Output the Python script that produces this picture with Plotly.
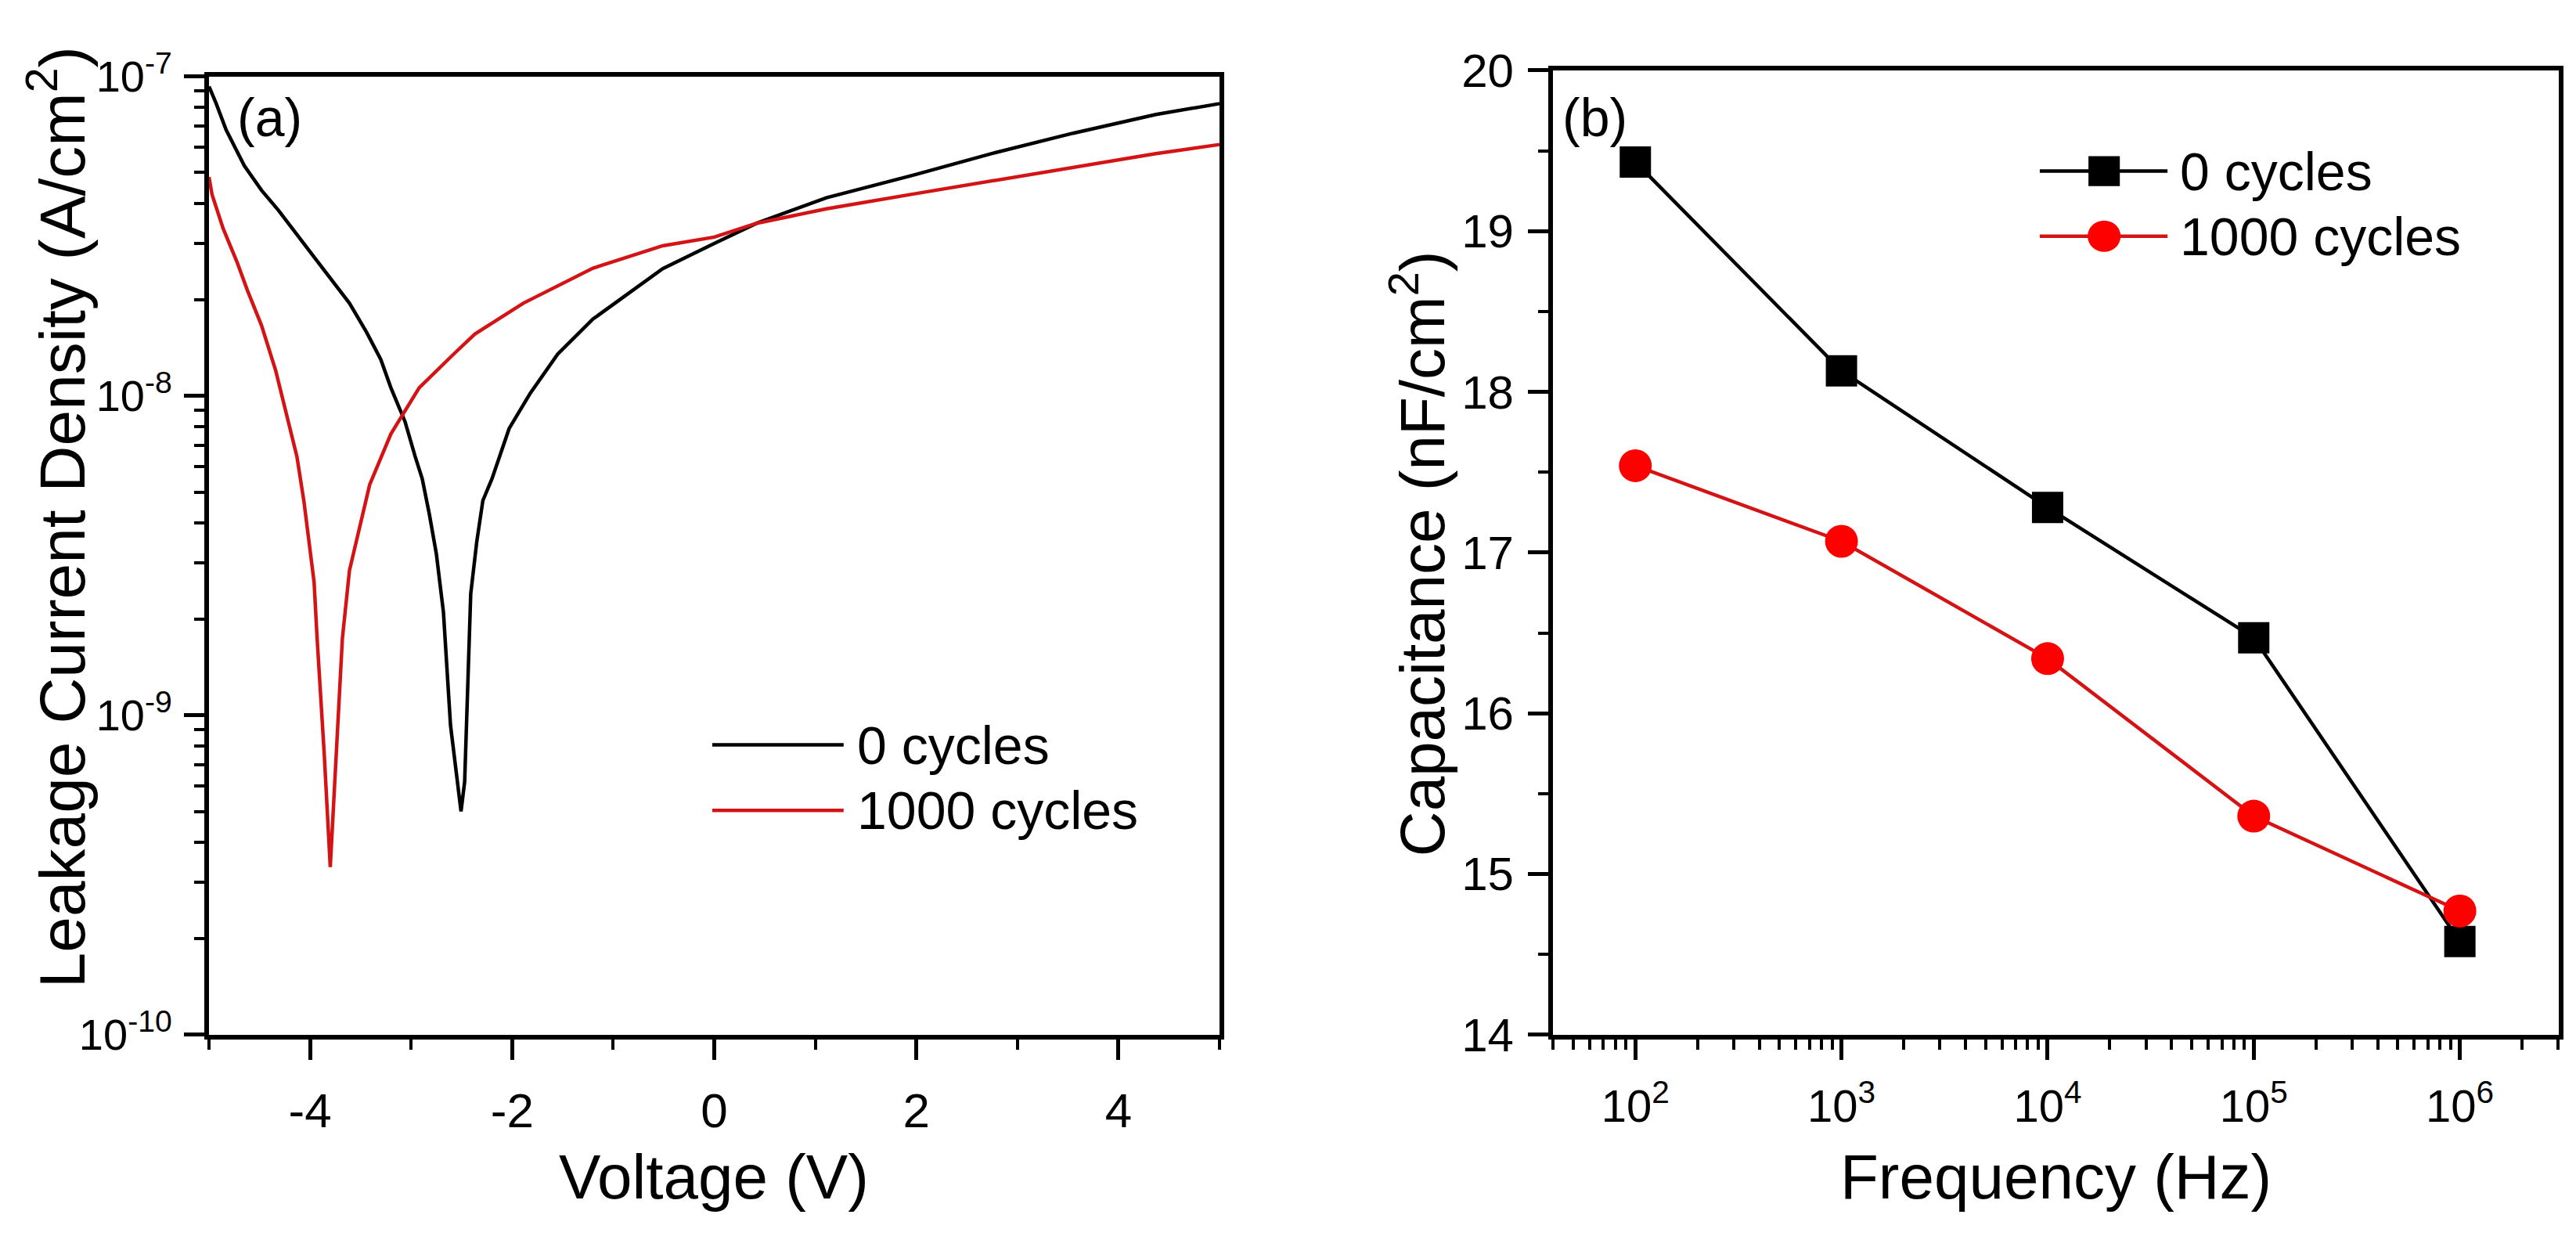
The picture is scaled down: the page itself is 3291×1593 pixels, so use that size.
import plotly.graph_objects as go

# ---- (a) leakage current density vs voltage ----
volt_0 = [-5.00, -4.93, -4.83, -4.65, -4.48, -4.31, -3.96, -3.79, -3.61, -3.44,
          -3.30, -3.20, -3.06, -2.96, -2.89, -2.82, -2.75, -2.68, -2.61, -2.55,
          -2.506, -2.47, -2.44, -2.41, -2.35, -2.29, -2.20, -2.03, -1.82, -1.55,
          -1.20, -0.51, 0.00, 0.42, 1.11, 1.98, 2.74, 3.55, 4.37, 5.00]
j_0 = [9.3e-8, 8.24e-8, 6.8e-8, 5.25e-8, 4.4e-8, 3.80e-8, 2.72e-8, 2.31e-8, 1.95e-8, 1.58e-8,
       1.30e-8, 1.06e-8, 8.3e-9, 6.46e-9, 5.5e-9, 4.27e-9, 3.2e-9, 2.1e-9, 9.3e-10, 6.5e-10,
       5.0e-10, 6.2e-10, 1.26e-9, 2.4e-9, 3.5e-9, 4.7e-9, 5.5e-9, 7.9e-9, 1.02e-8, 1.35e-8,
       1.74e-8, 2.5e-8, 3.0e-8, 3.47e-8, 4.17e-8, 4.92e-8, 5.73e-8, 6.64e-8, 7.60e-8, 8.22e-8]

volt_1000 = [-5.00, -4.97, -4.86, -4.79, -4.72, -4.62, -4.48, -4.34, -4.20, -4.13,
             -4.06, -3.96, -3.93, -3.86, -3.80, -3.74, -3.68, -3.61, -3.41, -3.20,
             -3.08, -2.92, -2.58, -2.37, -1.89, -1.20, -0.51, 0.00, 0.42, 1.11,
             1.98, 2.74, 3.55, 4.37, 5.00]
j_1000 = [4.84e-8, 4.27e-8, 3.34e-8, 2.95e-8, 2.61e-8, 2.14e-8, 1.66e-8, 1.20e-8, 7.9e-9, 6.46e-9,
          4.66e-9, 2.61e-9, 1.74e-9, 7.6e-10, 3.35e-10, 7.6e-10, 1.74e-9, 2.84e-9, 5.27e-9, 7.6e-9,
          8.8e-9, 1.06e-8, 1.35e-8, 1.56e-8, 1.95e-8, 2.51e-8, 2.95e-8, 3.14e-8, 3.47e-8, 3.85e-8,
          4.29e-8, 4.71e-8, 5.19e-8, 5.73e-8, 6.12e-8]

v_ticks = [-4, -2, 0, 2, 4]
v_ticktext = ["-4", "-2", "0", "2", "4"]
j_ticks = [1e-10, 1e-9, 1e-8, 1e-7]
j_ticktext = ["10<sup>-10</sup>", "10<sup>-9</sup>", "10<sup>-8</sup>", "10<sup>-7</sup>"]

# ---- (b) capacitance vs frequency ----
freq = [1e2, 1e3, 1e4, 1e5, 1e6]
cap_0 = [19.43, 18.13, 17.28, 16.47, 14.58]
cap_1000 = [17.54, 17.07, 16.34, 15.36, 14.77]

f_ticks = [1e2, 1e3, 1e4, 1e5, 1e6]
f_ticktext = ["10<sup>2</sup>", "10<sup>3</sup>", "10<sup>4</sup>", "10<sup>5</sup>", "10<sup>6</sup>"]

names = ["0 cycles", "1000 cycles"]

FONT = "Arial, Liberation Sans, sans-serif"
RED_LINE = "#d41414"
RED_MARK = "#ff0000"
LW = 4.5

fig = go.Figure()

fig.add_trace(go.Scatter(x=volt_0, y=j_0, mode="lines", name=names[0],
                         line=dict(color="black", width=LW),
                         xaxis="x", yaxis="y", showlegend=False))
fig.add_trace(go.Scatter(x=volt_1000, y=j_1000, mode="lines", name=names[1],
                         line=dict(color=RED_LINE, width=LW),
                         xaxis="x", yaxis="y", showlegend=False))

fig.add_trace(go.Scatter(x=freq, y=cap_0, mode="lines+markers", name=names[0],
                         line=dict(color="black", width=LW),
                         marker=dict(symbol="square", size=40, color="black"),
                         xaxis="x2", yaxis="y2", showlegend=False))
fig.add_trace(go.Scatter(x=freq, y=cap_1000, mode="lines+markers", name=names[1],
                         line=dict(color=RED_LINE, width=LW),
                         marker=dict(symbol="circle", size=42, color=RED_MARK),
                         xaxis="x2", yaxis="y2", showlegend=False))

common = dict(showline=True, linecolor="black", linewidth=6, mirror=True,
              ticks="outside", ticklen=26, tickwidth=5, tickcolor="black",
              showgrid=False, zeroline=False,
              tickfont=dict(family=FONT, size=58, color="black"))
minor_common = dict(ticks="outside", ticklen=13, tickwidth=4, tickcolor="black", showgrid=False)

fig.update_layout(
    width=3291, height=1593, autosize=False,
    margin=dict(l=0, r=0, t=0, b=0),
    paper_bgcolor="white", plot_bgcolor="white",
    font=dict(family=FONT, color="black"),
    xaxis=dict(common, domain=[0.0787, 0.471], range=[-5, 5],
               tickmode="array", tickvals=v_ticks, ticktext=v_ticktext,
               minor=dict(minor_common, dtick=1, tick0=-5), anchor="y",
               ticklabelstandoff=12,
               tickfont=dict(family=FONT, size=62, color="black")),
    yaxis=dict(common, domain=[0.1613, 0.9667], type="log", range=[-10, -7],
               tickmode="array", tickvals=j_ticks, ticktext=j_ticktext,
               minor=dict(minor_common, dtick="D1"), anchor="x",
               ticklabelstandoff=4,
               tickfont=dict(family=FONT, size=56, color="black")),
    xaxis2=dict(common, domain=[0.6004, 0.9909], type="log", range=[1.6, 6.48],
                tickmode="array", tickvals=f_ticks, ticktext=f_ticktext,
                minor=dict(minor_common, dtick="D1"), anchor="y2",
                ticklabelstandoff=10),
    yaxis2=dict(common, domain=[0.1613, 0.9718], range=[14, 20], dtick=1,
                minor=dict(minor_common, dtick=0.5), anchor="x2",
                ticklabelstandoff=6,
                tickfont=dict(family=FONT, size=60, color="black")),
)

# custom legends (long line samples as in the original)
shapes = []
annos = []
for i, (yy, col) in enumerate([(0.3025, "black"), (0.234, RED_LINE)]):
    shapes.append(dict(type="line", xref="x domain", yref="y domain",
                       x0=0.498, x1=0.628, y0=yy, y1=yy, line=dict(color=col, width=LW)))
    annos.append(dict(xref="x domain", yref="y domain", x=0.640, y=yy, text=names[i],
                      showarrow=False, xanchor="left", yanchor="middle",
                      font=dict(family=FONT, size=68, color="black")))

for i, (yy, col) in enumerate([(0.8955, "black"), (0.828, RED_LINE)]):
    shapes.append(dict(type="line", xref="x2 domain", yref="y2 domain",
                       x0=0.484, x1=0.611, y0=yy, y1=yy, line=dict(color=col, width=LW)))
    hx, hy = 0.0156, 0.0155
    if i == 0:
        shapes.append(dict(type="rect", xref="x2 domain", yref="y2 domain",
                           x0=0.548 - hx, x1=0.548 + hx, y0=yy - hy, y1=yy + hy,
                           fillcolor="black", line=dict(width=0)))
    else:
        shapes.append(dict(type="circle", xref="x2 domain", yref="y2 domain",
                           x0=0.548 - hx * 1.05, x1=0.548 + hx * 1.05,
                           y0=yy - hy * 1.05, y1=yy + hy * 1.05,
                           fillcolor=RED_MARK, line=dict(width=0)))
    annos.append(dict(xref="x2 domain", yref="y2 domain", x=0.622, y=yy, text=names[i],
                      showarrow=False, xanchor="left", yanchor="middle",
                      font=dict(family=FONT, size=68, color="black")))

# panel labels
annos.append(dict(xref="x domain", yref="y domain", x=0.026, y=0.957, text="(a)",
                  showarrow=False, xanchor="left", yanchor="middle",
                  font=dict(family=FONT, size=68, color="black")))
annos.append(dict(xref="x2 domain", yref="y2 domain", x=0.008, y=0.951, text="(b)",
                  showarrow=False, xanchor="left", yanchor="middle",
                  font=dict(family=FONT, size=68, color="black")))

# axis titles
annos.append(dict(xref="paper", yref="paper", x=0.0195, y=0.596, textangle=-90,
                  text="Leakage Current Density (A/cm<sup>2</sup>)", showarrow=False,
                  xanchor="center", yanchor="middle",
                  font=dict(family=FONT, size=82, color="black")))
annos.append(dict(xref="paper", yref="paper", x=0.2748, y=0.042,
                  text="Voltage (V)", showarrow=False,
                  xanchor="center", yanchor="middle",
                  font=dict(family=FONT, size=80, color="black")))
annos.append(dict(xref="paper", yref="paper", x=0.548, y=0.566, textangle=-90,
                  text="Capacitance (nF/cm<sup>2</sup>)", showarrow=False,
                  xanchor="center", yanchor="middle",
                  font=dict(family=FONT, size=80, color="black")))
annos.append(dict(xref="paper", yref="paper", x=0.7956, y=0.042,
                  text="Frequency (Hz)", showarrow=False,
                  xanchor="center", yanchor="middle",
                  font=dict(family=FONT, size=80, color="black")))

fig.update_layout(shapes=shapes, annotations=annos)

fig.write_html("out.html")
